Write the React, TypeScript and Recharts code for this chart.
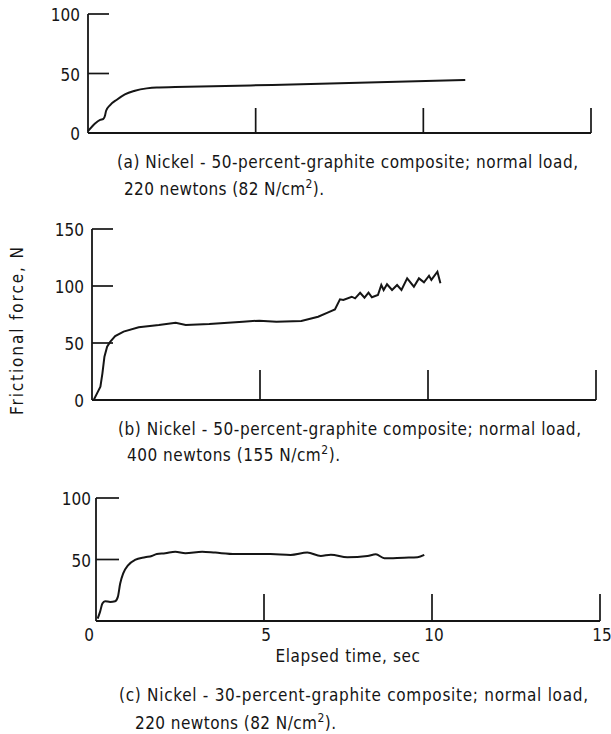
import React from 'react';
import { LineChart, Line, XAxis, YAxis } from 'recharts';

const FONT = '"Liberation Sans Narrow", "DejaVu Sans Condensed", "Liberation Sans", sans-serif';
const INK = '#151515';

// Shared x ticks (elapsed time, sec)
const timeTicks = [0, 5, 10, 15];

// Panel (a): Nickel - 50-percent-graphite, 220 N
const aTime = [0, 0.21, 0.36, 0.46, 0.51, 0.54, 0.66, 0.86, 1.1, 1.4, 1.75, 2.05, 2.6, 5.5, 11.25];
const aForce = [1.5, 8, 11, 11.8, 15, 18.7, 23.5, 28, 32.5, 35.5, 37.5, 38.3, 38.6, 40.4, 44.5];
const aTicks = [0, 50, 100];

// Panel (b): Nickel - 50-percent-graphite, 400 N
const bTime = [0.05, 0.15, 0.25, 0.31, 0.37, 0.45, 0.54, 0.69, 0.94, 1.39, 1.99, 2.49, 2.79, 3.49, 4.49, 4.98, 5.49, 6.23, 6.73, 7.03, 7.23, 7.38, 7.48, 7.73, 7.83, 7.98, 8.11, 8.23, 8.33, 8.51, 8.61, 8.68, 8.78, 8.93, 9.08, 9.21, 9.38, 9.58, 9.73, 9.88, 10.03, 10.1, 10.28, 10.37];
const bForce = [0, 5.8, 11.7, 23.4, 38, 46.8, 51, 56, 60, 63.8, 65.8, 67.8, 65.8, 66.7, 68.7, 69.6, 68.7, 69.3, 73, 76.9, 79.5, 88.3, 87.7, 90.6, 89.2, 94.1, 89.7, 94.1, 90.1, 92.1, 100.9, 96.5, 101.5, 96.5, 100.9, 96.5, 106.7, 99.4, 106.7, 103.2, 109, 105.3, 112.5, 102.4];
const bTicks = [0, 50, 100, 150];

// Panel (c): Nickel - 30-percent-graphite, 220 N
const cTime = [0.05, 0.12, 0.19, 0.27, 0.42, 0.57, 0.65, 0.72, 0.81, 0.96, 1.16, 1.46, 1.66, 1.81, 2.06, 2.36, 2.66, 3.16, 3.55, 4.15, 4.65, 5.19, 5.79, 6.29, 6.69, 6.99, 7.48, 8.08, 8.33, 8.58, 9.17, 9.57, 9.77];
const cForce = [2, 7.4, 14.2, 16.1, 15.5, 16.1, 19.6, 30.5, 38.7, 45.5, 49.6, 51.8, 52.9, 54.5, 55.1, 56.4, 55.1, 56.4, 55.6, 54.5, 54.5, 54.5, 53.7, 55.6, 52.9, 53.9, 51.8, 52.9, 54.2, 51, 51.5, 51.8, 53.7];
const cTicks = [50, 100];

const toRows = (t: number[], v: number[]) => t.map((x, i) => ({ t: x, f: v[i] }));
const dataA = toRows(aTime, aForce);
const dataB = toRows(bTime, bForce);
const dataC = toRows(cTime, cForce);

const makeYTick = (len: number, gap: number) => (props: any) => {
  const { x, y, payload } = props;
  const v = payload.value;
  return (
    <g>
      {v !== 0 && <line x1={x} x2={x + len} y1={y} y2={y} stroke={INK} strokeWidth={1.7} />}
      <text x={x - gap} y={y + 2} textAnchor="end" dominantBaseline="middle" fontFamily={FONT} fontSize={17} fill={INK}>
        {v}
      </text>
    </g>
  );
};

const makeXTick = (h: number, labels: boolean) => (props: any) => {
  const { x, y, payload } = props;
  const v = payload.value;
  return (
    <g>
      {v !== 0 && <line x1={x} x2={x} y1={y} y2={y - h} stroke={INK} strokeWidth={1.7} />}
      {labels && (
        <text x={v === 0 ? x - 7 : x + 2} y={y + 15} textAnchor="middle" dominantBaseline="middle" fontFamily={FONT} fontSize={17} fill={INK}>
          {v}
        </text>
      )}
    </g>
  );
};

const axisLine = { stroke: INK, strokeWidth: 1.8 };

const Panel = (p: {
  top: number; height: number; data: any[]; margin: any; yMax: number; yTicks: number[];
  yTickLen: number; yGap: number; xTickH: number; xLabels: boolean; xAxisH: number; curve: any; xTitle?: string;
}) => (
  <div style={{ position: 'absolute', left: 0, top: p.top }}>
    <LineChart width={611} height={p.height} data={p.data} margin={p.margin}>
      <XAxis
        type="number"
        dataKey="t"
        domain={[0, 15]}
        ticks={timeTicks}
        interval={0}
        height={p.xAxisH}
        tickSize={0}
        tickMargin={0}
        tickLine={false}
        axisLine={axisLine}
        tick={makeXTick(p.xTickH, p.xLabels)}
        label={p.xTitle ? { value: p.xTitle, position: 'insideBottom', offset: 18, style: { fontFamily: FONT, fontSize: 17, fill: INK, letterSpacing: 0.6 } } : undefined}
      />
      <YAxis
        type="number"
        domain={[0, p.yMax]}
        ticks={p.yTicks}
        interval={0}
        width={60}
        tickSize={0}
        tickMargin={0}
        tickLine={false}
        axisLine={axisLine}
        tick={makeYTick(p.yTickLen, p.yGap)}
      />
      <Line dataKey="f" type={p.curve} stroke={INK} strokeWidth={2} dot={false} isAnimationActive={false} />
    </LineChart>
  </div>
);

const capStyle = { fontFamily: FONT, fontSize: 17, fill: INK } as any;

export default function App() {
  return (
    <div style={{ position: 'absolute', left: 0, top: 0, width: 611, height: 734, background: '#fff', overflow: 'hidden' }}>
      <Panel top={0} height={150} data={dataA} margin={{ top: 14, right: 20, bottom: 0, left: 28 }} yMax={100} yTicks={aTicks}
        yTickLen={21} yGap={8} xTickH={25} xLabels={false} xAxisH={17} curve="monotone" />
      <Panel top={200} height={220} data={dataB} margin={{ top: 29, right: 15, bottom: 0, left: 32 }} yMax={150} yTicks={bTicks}
        yTickLen={21} yGap={8} xTickH={30} xLabels={false} xAxisH={20} curve="linear" />
      <Panel top={480} height={200} data={dataC} margin={{ top: 18, right: 11, bottom: 0, left: 36 }} yMax={100} yTicks={cTicks}
        yTickLen={23} yGap={5} xTickH={27} xLabels={true} xAxisH={59} curve="monotone" xTitle="Elapsed time, sec" />
      <svg width={611} height={734} style={{ position: 'absolute', left: 0, top: 0, pointerEvents: 'none' }}>
        <text x={18} y={331} transform="rotate(-90 18 331)" textAnchor="middle" dominantBaseline="middle" textLength={168} lengthAdjust="spacing" {...capStyle}>
          Frictional force, N
        </text>

        <text x={117} y={168} textLength={461} lengthAdjust="spacing" {...capStyle}>(a) Nickel - 50-percent-graphite composite; normal load,</text>
        <text x={124} y={195} textLength={200} lengthAdjust="spacing" {...capStyle}>
          <tspan>220 newtons (82 N/cm</tspan><tspan dy={-7} fontSize={12}>2</tspan><tspan dy={7}>).</tspan>
        </text>

        <text x={118} y={435} textLength={463} lengthAdjust="spacing" {...capStyle}>(b) Nickel - 50-percent-graphite composite; normal load,</text>
        <text x={127} y={461} textLength={213} lengthAdjust="spacing" {...capStyle}>
          <tspan>400 newtons (155 N/cm</tspan><tspan dy={-7} fontSize={12}>2</tspan><tspan dy={7}>).</tspan>
        </text>

        <text x={119} y={701} textLength={469} lengthAdjust="spacing" {...capStyle}>(c) Nickel - 30-percent-graphite composite; normal load,</text>
        <text x={135} y={729} textLength={201} lengthAdjust="spacing" {...capStyle}>
          <tspan>220 newtons (82 N/cm</tspan><tspan dy={-7} fontSize={12}>2</tspan><tspan dy={7}>).</tspan>
        </text>
      </svg>
    </div>
  );
}
